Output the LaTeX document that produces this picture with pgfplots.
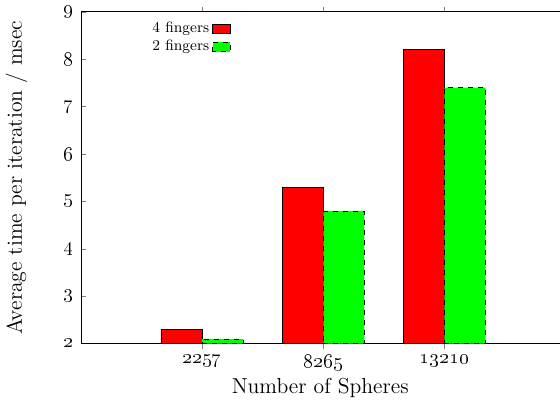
\documentclass[border=0pt]{standalone}
\usepackage{pgfplots}
\pgfplotsset{compat=1.18}
\definecolor{gpred}{RGB}{255,0,0}
\definecolor{gpgreen}{RGB}{0,255,0}
\begin{document}
\begin{tikzpicture}
\begin{axis}[
    scale only axis,
    width=287pt, height=199pt,
    xmin=0, xmax=3.95,
    ymin=2, ymax=9,
    axis x line=box,
    axis y line=left,
    axis line style={line width=0.6pt, -},
    tick align=inside,
    major tick length=3pt,
    xtick={1,2,3},
    xticklabels={\oldstylenums{2257},\oldstylenums{8265},\oldstylenums{13210}},
    ytick={2,...,9},
    yticklabels={\oldstylenums{2},\oldstylenums{3},\oldstylenums{4},\oldstylenums{5},\oldstylenums{6},\oldstylenums{7},\oldstylenums{8},\oldstylenums{9}},
    tick label style={font=\fontsize{13}{15}\selectfont},
    yticklabel style={xshift=-1pt},
    label style={font=\fontsize{13}{15}\selectfont},
    xlabel={Number of Spheres},
    ylabel={Average time per iteration / msec},
    ylabel style={yshift=15pt},
    xlabel style={yshift=2.5pt},
    ybar, bar width=0.34,
    legend style={draw=none, fill=none, font=\small,
        at={(rel axis cs:0.316,0.985)}, anchor=north east,
        row sep=-1pt, inner sep=1pt},
    legend cell align=right,
    legend plot pos=right,
    legend image code/.code={\draw[#1] (0cm,-0.1cm) rectangle (0.36cm,0.1cm);},
]
\addplot[fill=gpred, draw=black, line width=0.4pt, bar shift=-0.17]
    coordinates {(1,2.3) (2,5.3) (3,8.2)};
\addplot[fill=gpgreen, draw=black, dashed, line width=0.4pt, bar shift=0.17]
    coordinates {(1,2.1) (2,4.8) (3,7.4)};
\legend{4 fingers, 2 fingers}
\end{axis}
\end{tikzpicture}
\end{document}
